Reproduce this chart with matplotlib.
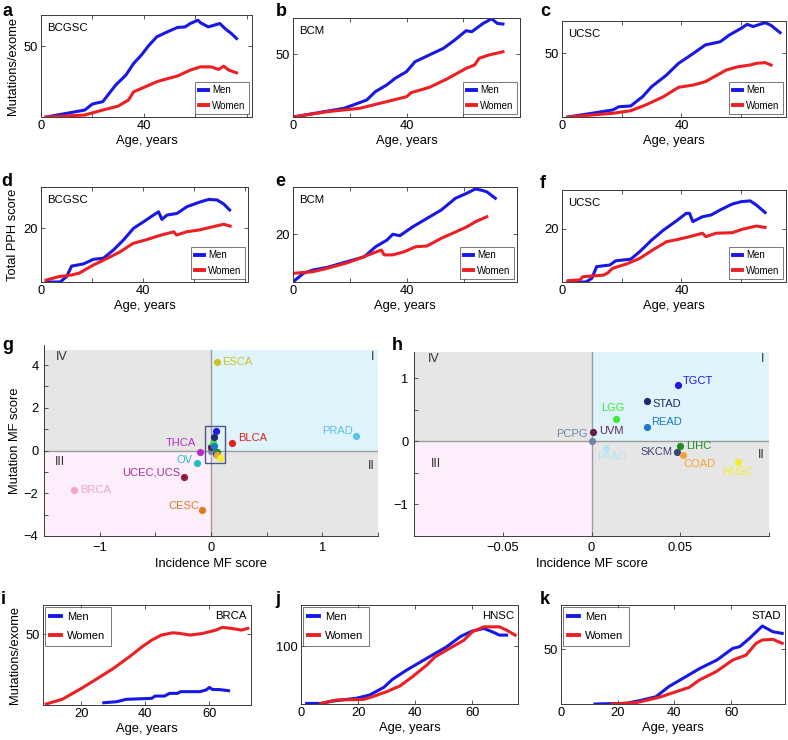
import matplotlib
matplotlib.use('Agg')
import matplotlib.pyplot as plt
from matplotlib.patches import Rectangle

plt.rcParams['font.family'] = ['Liberation Sans', 'DejaVu Sans']
plt.rcParams['axes.unicode_minus'] = True

# ---- age curves (mutations / exome, PPH score) ----
a_men_age = [2, 10, 17, 20, 24, 26, 29, 33, 36, 39, 42, 45, 49, 53, 56, 58, 61, 62, 65, 69.5, 71.5, 74, 76]
a_men_val = [0, 2.6, 4.9, 9.2, 10.8, 15.5, 22.5, 29.6, 37.8, 43.7, 50.7, 56.6, 60, 63.2, 63.6, 66, 68.3, 66.5, 63.6, 66, 62.4, 58.9, 55.4]
a_women_age = [2, 17, 24, 30, 34, 36, 40, 45, 49, 53, 58, 62, 66, 69, 71, 73, 76]
a_women_val = [0, 1.4, 4.9, 7.7, 12, 17.8, 20.9, 24.9, 27, 28.9, 33.1, 35.4, 35.4, 33.6, 35.9, 33.1, 31.2]

b_men_age = [0, 18, 26, 29, 33, 36, 40, 43, 48, 53, 57, 61, 63, 67, 70, 72, 74]
b_men_val = [0, 6.9, 13.5, 20.1, 25.4, 30.7, 36, 43.9, 49.2, 54.5, 61.1, 68.5, 67.7, 74.3, 78, 74.3, 73.8]
b_women_age = [0, 12, 23.5, 33, 40, 41.6, 48, 54, 61, 64, 65.6, 69, 74]
b_women_val = [0, 4.2, 6.9, 12.2, 16.1, 19.3, 23.5, 29.9, 38.6, 41.3, 46.6, 49.2, 51.8]

c_men_age = [2, 10, 17, 19, 23, 27, 30, 35, 39, 44, 48, 53, 56, 60, 62, 64, 68, 70, 73]
c_men_val = [0, 2.9, 5.5, 8, 8.6, 15.9, 23.7, 32.8, 41.9, 49.7, 56.3, 58.8, 64, 69.3, 72.4, 70.7, 73.7, 71.6, 65.9]
c_women_age = [2, 17, 23, 28, 34, 39, 44, 48, 53, 55, 59, 63, 65, 68, 70]
c_women_val = [0, 2.9, 4.9, 9.4, 15.9, 23.2, 25, 27.6, 34.1, 36.7, 39.3, 40.6, 41.9, 42.5, 40.6]

d_men_age = [2, 7.5, 10, 12, 16.6, 20.5, 24.4, 28.4, 32.3, 36.2, 40.1, 44, 46, 47.3, 49.3, 53.2, 57.1, 62.4, 65.6, 68.9, 71.5, 73.8]
d_men_val = [0, 0, 2, 5.9, 6.7, 8.4, 8.8, 11.9, 15.6, 19.9, 22.3, 24.8, 26, 23.2, 24.8, 25.4, 27.9, 29.7, 30.6, 30.4, 28.9, 26.7]
d_women_age = [2, 7, 12, 15, 17, 20.5, 26, 31, 36, 41, 47, 52, 53, 57, 62, 66, 71.5, 74]
d_women_val = [0.7, 2, 2.6, 3.3, 4.4, 6.3, 8.8, 11.2, 14.3, 15.6, 17.4, 18.6, 17.4, 18.6, 19.3, 20.2, 21.4, 20.7]

e_men_age = [0, 3.6, 7, 12, 19, 25, 29, 33, 35, 37.5, 42, 46, 52, 57, 61, 64, 66, 68, 71]
e_men_val = [0, 3.6, 5, 6.1, 8.5, 10.5, 14.7, 17.5, 19.9, 19.3, 23, 25.8, 30, 34.9, 37, 38.8, 38.3, 37.6, 34.9]
e_women_age = [0, 7, 12, 19, 23.5, 28, 31, 32, 35, 39, 43, 47, 52, 56, 61, 64, 68]
e_women_val = [3.6, 4.3, 5.7, 8, 9.9, 12, 13.3, 11.3, 11.3, 12.6, 14.7, 15, 18.2, 20.3, 23, 25.1, 27.2]

f_men_age = [2, 8, 10, 11.6, 16, 18, 23, 26, 30, 34, 38, 41.6, 42.7, 43.8, 47, 50, 53, 57, 60, 63, 65, 68]
f_men_val = [0, 0, 1.4, 5.8, 6.4, 8, 8.6, 11.4, 15.8, 19.6, 22.8, 25.9, 25.9, 22.8, 24.6, 25.3, 27.2, 29.4, 30.3, 30.6, 29.1, 26.2]
f_women_age = [2, 6, 7, 14, 15.4, 17, 21.6, 26, 30.4, 35, 39, 42.7, 47, 48.2, 51.6, 57, 60.4, 65, 68]
f_women_val = [0.5, 0.8, 2, 2.6, 3.5, 5.2, 6.8, 8.9, 12.1, 15.2, 16.1, 17.1, 18.4, 17.1, 18.4, 18.6, 19.9, 21.1, 20.6]

i_men_age = [27, 31, 34, 42, 43, 46, 47.5, 50, 51, 57, 59, 60, 61, 63, 66]
i_men_val = [1.6, 2.3, 4, 4.7, 6.3, 6.3, 8.2, 8.2, 9.4, 9.4, 10.6, 12.4, 10.9, 10.9, 10.1]
i_women_age = [9, 14, 20, 24.6, 30, 35, 39, 42, 45, 48.5, 50.6, 54, 58, 62, 64, 67, 70, 72]
i_women_val = [0.7, 4, 11.7, 18.1, 25.8, 34, 41.1, 45.8, 49.3, 50.9, 50.5, 49.3, 50.5, 52.8, 54.7, 54, 52.8, 54]

j_men_age = [2, 7, 11, 19.5, 24, 29, 32, 37, 42, 46, 51, 56, 60, 64, 67, 69.5, 72]
j_men_val = [1, 1, 5, 10, 15.5, 28.7, 42.5, 58.6, 73, 84.5, 98.8, 117, 126, 130.5, 124.7, 119, 119]
j_women_age = [7, 12.6, 22, 25, 30, 34.6, 39, 44, 47, 52, 57, 60, 64, 69.5, 72, 75]
j_women_val = [1, 7, 8, 12.6, 21.3, 31, 47, 67, 81.6, 96, 110, 124.7, 133.3, 133.3, 127.6, 119]

k_men_age = [12, 23, 27.6, 33.5, 38, 43, 49, 55, 60.6, 63, 66.5, 71, 74.7, 78]
k_men_val = [0, 0.6, 3, 6.6, 15.8, 23.3, 32.4, 40, 50.6, 52.1, 59.7, 70.9, 65.7, 64.2]
k_women_age = [18, 26.5, 34.7, 40.6, 45.3, 48.8, 54.7, 60.6, 65.3, 68.8, 71, 74.7, 78]
k_women_val = [0, 1.2, 6.1, 11.2, 15.2, 21.8, 29.4, 40, 44.5, 55.2, 58.2, 58.8, 55.2]

# ---- MF scores ----
g_names = ['ESCA', 'PRAD', 'BLCA', 'THCA', 'OV', 'UCEC,UCS', 'BRCA', 'CESC']
g_incidence = [0.05, 1.30, 0.19, -0.10, -0.13, -0.24, -1.23, -0.08]
g_mutation = [4.13, 0.66, 0.35, -0.09, -0.57, -1.24, -1.86, -2.77]

h_names = ['PAAD', 'PCPG', 'UVM', 'LGG', 'READ', 'STAD', 'TGCT', 'SKCM', 'LIHC', 'COAD', 'HNSC']
h_incidence = [0.0084, 0.0, 0.001, 0.0136, 0.031, 0.031, 0.049, 0.048, 0.050, 0.0517, 0.0826]
h_mutation = [-0.10, 0.0, 0.15, 0.36, 0.23, 0.64, 0.90, -0.16, -0.07, -0.21, -0.33]

# colours and label placement (pixel offsets, alignment)
point_color = {
    'ESCA': '#c9c520', 'PRAD': '#5cc0ea', 'BLCA': '#e3211f', 'THCA': '#b32ec2',
    'OV': '#22bec6', 'UCEC,UCS': '#8c1d3c', 'BRCA': '#f4a6c6', 'CESC': '#de7b1e',
    'TGCT': '#1c1ce0', 'STAD': '#1e2a6e', 'LGG': '#3ee83e', 'READ': '#1f78c4',
    'UVM': '#5e1f48', 'PCPG': '#7384a8', 'PAAD': '#b3e6f7', 'SKCM': '#35457a',
    'LIHC': '#1e8c22', 'COAD': '#f2a43a', 'HNSC': '#f3ee2a',
}
label_color = dict(point_color, **{'UCEC,UCS': '#a52fa0', 'UVM': '#5e2a5a'})
label_place = {
    'ESCA': (6, 0, 'left'), 'PRAD': (-3, 5, 'right'), 'BLCA': (6, 5, 'left'),
    'THCA': (-4, 9, 'right'), 'OV': (-4, 3, 'right'), 'UCEC,UCS': (-4, 5, 'right'),
    'BRCA': (6, 0, 'left'), 'CESC': (-3, 4, 'right'),
    'TGCT': (4, 4, 'left'), 'STAD': (6, -3, 'left'), 'LGG': (-3, 11, 'center'),
    'READ': (5, 5, 'left'), 'UVM': (6, 1, 'left'), 'PCPG': (-4, 7, 'right'),
    'PAAD': (5, -9, 'center'), 'SKCM': (-4, 0, 'right'), 'LIHC': (6, 0, 'left'),
    'COAD': (0, -9, 'left'), 'HNSC': (0, -10, 'center'),
}

MEN = '#1818e6'
WOMEN = '#ec1f24'
SPINE = '#3a3a3a'
W, H = 788, 740

fig = plt.figure(figsize=(W / 100, H / 100), dpi=100)


def axes_px(left, top, right, bottom):
    return fig.add_axes([left / W, 1 - bottom / H, (right - left) / W, (bottom - top) / H])


def age_panel(box, men, women, xlim, ylim, xticks, xlabels, ytick, name, lower=True, ylabel=None):
    """Draws one men/women age curve panel"""
    ax = axes_px(*box)
    ax.plot(men[0], men[1], color=MEN, lw=2.2, label='Men')
    ax.plot(women[0], women[1], color=WOMEN, lw=2.2, label='Women')
    ax.set_xlim(*xlim)
    ax.set_ylim(*ylim)
    ax.set_xticks(xticks)
    ax.set_xticklabels(xlabels)
    ax.set_yticks([ytick])
    ax.set_yticklabels([str(ytick)])
    ax.tick_params(direction='in', length=3, width=0.6, top=True, right=True,
                   labelsize=9.3, pad=2.5, color=SPINE)
    for s in ax.spines.values():
        s.set_color(SPINE)
        s.set_linewidth(0.7)
    ax.set_xlabel('Age, years', fontsize=9.3, labelpad=2)
    if ylabel:
        ax.set_ylabel(ylabel, fontsize=9.3, labelpad=3)
    if lower:
        leg = ax.legend(loc='lower right', fontsize=7, handlelength=1.0, handletextpad=0.4,
                        borderpad=0.35, labelspacing=0.55, borderaxespad=0.3, fancybox=False)
        ax.annotate(name, (0, 1), xycoords='axes fraction', xytext=(6, -13),
                    textcoords='offset pixels', ha='left', va='center', fontsize=8.2)
    else:
        leg = ax.legend(loc='upper left', fontsize=8, handlelength=1.0, handletextpad=0.5,
                        borderpad=0.5, labelspacing=0.75, borderaxespad=0.15, fancybox=False)
        ax.annotate(name, (1, 1), xycoords='axes fraction', xytext=(-4, -11),
                    textcoords='offset pixels', ha='right', va='center', fontsize=8.2)
    leg.get_frame().set_edgecolor(SPINE)
    leg.get_frame().set_linewidth(0.6)
    for line in leg.get_lines():
        line.set_linewidth(2.8)
    return ax


def quadrant_panel(box, xlim, ylim, shade_top, xticks, xlabels, yticks, ylabels, numerals, ylabel=None):
    """Draws the I-IV quadrant background for MF score plots"""
    ax = axes_px(*box)
    x0, x1 = xlim
    y0 = ylim[0]
    ax.add_patch(Rectangle((0, 0), x1, shade_top, color='#dff3fb', lw=0, zorder=0))
    ax.add_patch(Rectangle((x0, 0), -x0, shade_top, color='#e6e6e6', lw=0, zorder=0))
    ax.add_patch(Rectangle((0, y0), x1, -y0, color='#e6e6e6', lw=0, zorder=0))
    ax.add_patch(Rectangle((x0, y0), -x0, -y0, color='#fdeefb', lw=0, zorder=0))
    ax.plot([x0, x1], [0, 0], color='#9c9c9c', lw=1, zorder=1)
    ax.plot([0, 0], [y0, shade_top], color='#9c9c9c', lw=1, zorder=1)
    for txt, (tx, ty) in numerals.items():
        ax.text(tx, ty, txt, fontsize=9, color='#333333', ha='center', va='center')
    ax.set_xlim(*xlim)
    ax.set_ylim(*ylim)
    ax.set_xticks(xticks)
    ax.set_xticklabels(xlabels)
    ax.set_yticks(yticks)
    ax.set_yticklabels(ylabels)
    ax.spines['top'].set_visible(False)
    ax.spines['right'].set_visible(False)
    for s in ('left', 'bottom'):
        ax.spines[s].set_color(SPINE)
        ax.spines[s].set_linewidth(0.7)
    ax.tick_params(direction='in', length=3, width=0.6, labelsize=9.3, pad=4, color=SPINE)
    ax.set_xlabel('Incidence MF score', fontsize=9.3, labelpad=3)
    if ylabel:
        ax.set_ylabel(ylabel, fontsize=9.3, labelpad=2)
    return ax


def scatter_points(ax, names, xs, ys, labels=True):
    for n, x, y in zip(names, xs, ys):
        ax.plot(x, y, 'o', ms=5.2, color=point_color[n], mec='none', zorder=3)
        if labels:
            dx, dy, ha = label_place[n]
            ax.annotate(n, (x, y), xytext=(dx, dy), textcoords='offset pixels', ha=ha,
                        va='center', fontsize=8, color=label_color[n], zorder=4)


# row 1: mutations per exome
age_panel((41, 15, 252, 117), (a_men_age, a_men_val), (a_women_age, a_women_val),
          (0, 82), (0, 72), [0, 20, 40, 60, 80], ['0', '', '40', '', ''], 50, 'BCGSC',
          ylabel='Mutations/exome')
age_panel((293, 18, 520, 117), (b_men_age, b_men_val), (b_women_age, b_women_val),
          (0, 80), (0, 78.6), [0, 20, 40, 60, 80], ['0', '', '40', '', ''], 50, 'BCM')
age_panel((562, 21, 786, 117), (c_men_age, c_men_val), (c_women_age, c_women_val),
          (0, 75), (0, 75), [0, 20, 40, 60], ['0', '', '40', ''], 50, 'UCSC')

# row 2: total PPH score
age_panel((41, 187, 248, 282), (d_men_age, d_men_val), (d_women_age, d_women_val),
          (0, 81), (0, 35.2), [0, 20, 40, 60, 80], ['0', '', '40', '', ''], 20, 'BCGSC',
          ylabel='Total PPH score')
age_panel((293, 187, 517, 282), (e_men_age, e_men_val), (e_women_age, e_women_val),
          (0, 78.6), (0, 39.6), [0, 20, 40, 60], ['0', '', '40', ''], 20, 'BCM')
age_panel((562, 190, 786, 282), (f_men_age, f_men_val), (f_women_age, f_women_val),
          (0, 75), (0, 34.7), [0, 20, 40, 60], ['0', '', '40', ''], 20, 'UCSC')

# row 3: MF score quadrants
ax_g = quadrant_panel((44, 345, 378, 536), (-1.5, 1.5), (-4, 4.94), 4.7,
                      [-1.5, -1, -0.5, 0, 0.5, 1, 1.5], ['', '\u22121', '', '0', '', '1', ''],
                      [-4, -3, -2, -1, 0, 1, 2, 3, 4], ['\u22124', '', '\u22122', '', '0', '', '2', '', '4'],
                      {'IV': (-1.34, 4.39), 'I': (1.45, 4.39), 'III': (-1.36, -0.54), 'II': (1.44, -0.72)},
                      ylabel='Mutation MF score')
scatter_points(ax_g, h_names, h_incidence, h_mutation, labels=False)
scatter_points(ax_g, g_names, g_incidence, g_mutation)
ax_g.add_patch(Rectangle((-0.05, -0.6), 0.18, 1.73, fill=False, ec='#50548c', lw=1, zorder=5))

ax_h = quadrant_panel((414, 352, 769, 536), (-0.1, 0.1), (-1.5, 1.42), 1.42,
                      [-0.1, -0.05, 0, 0.05, 0.1], ['', '\u22120.05', '0', '0.05', ''],
                      [-1.5, -1, -0.5, 0, 0.5, 1], ['', '\u22121', '', '0', '', '1'],
                      {'IV': (-0.0886, 1.31), 'I': (0.0961, 1.31), 'III': (-0.0877, -0.356), 'II': (0.0957, -0.21)})
scatter_points(ax_h, h_names, h_incidence, h_mutation)

# row 4: single tumour types
age_panel((43, 605, 251, 705), (i_men_age, i_men_val), (i_women_age, i_women_val),
          (8, 73), (0, 70.5), [20, 40, 60], ['20', '40', '60'], 50, 'BRCA', lower=False,
          ylabel='Mutations/exome')
age_panel((301, 605, 518, 704), (j_men_age, j_men_val), (j_women_age, j_women_val),
          (0, 76), (0, 171), [0, 20, 40, 60], ['0', '20', '40', '60'], 100, 'HNSC', lower=False)
age_panel((561, 605, 785, 704), (k_men_age, k_men_val), (k_women_age, k_women_val),
          (0, 79), (0, 90), [0, 20, 40, 60], ['0', '20', '40', '60'], 50, 'STAD', lower=False)

letters = {'a': (7, 11), 'b': (281, 11), 'c': (545, 12), 'd': (7, 182), 'e': (280, 182),
           'f': (543, 183), 'g': (8, 346), 'h': (397, 346), 'i': (3, 600), 'j': (278, 600),
           'k': (545, 600)}
for ch, (px, py) in letters.items():
    fig.text(px / W, 1 - py / H, ch, fontsize=13, fontweight='bold', ha='center', va='center')

fig.savefig('out.png', dpi=100)
